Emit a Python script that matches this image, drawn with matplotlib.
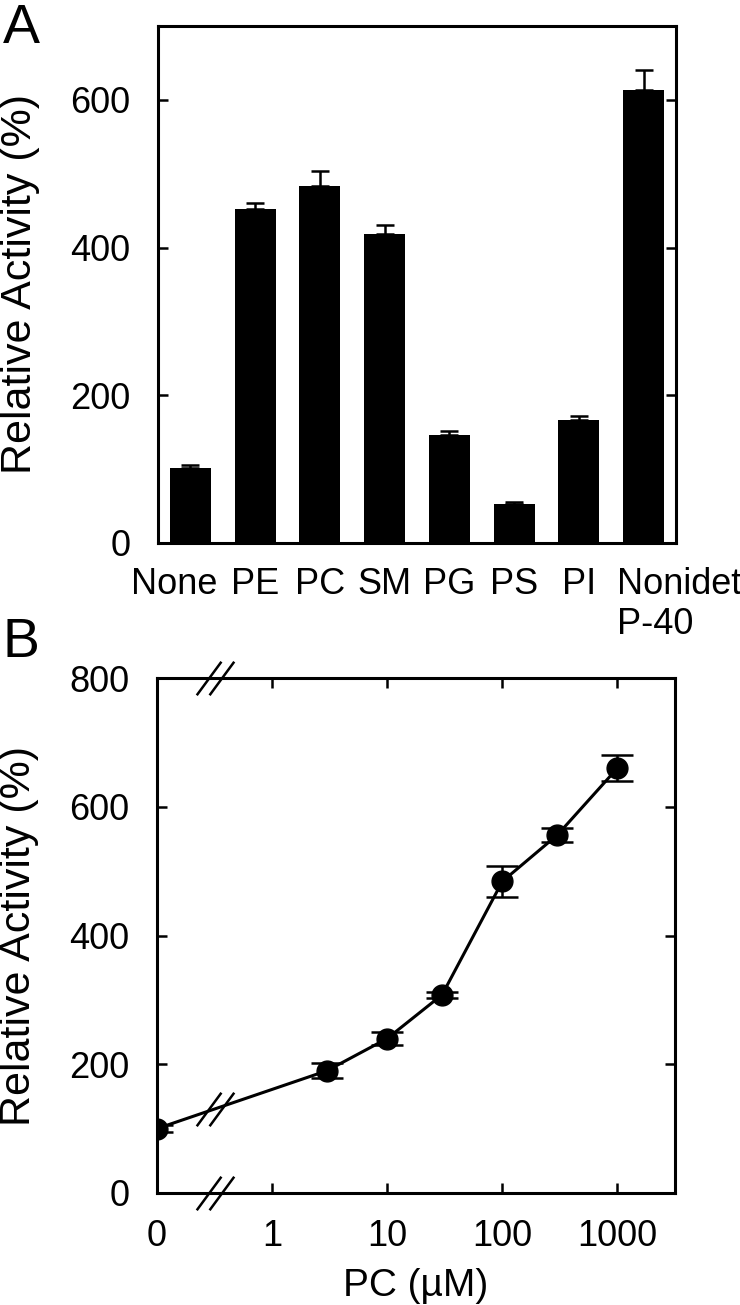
import numpy as np
import matplotlib
matplotlib.use("Agg")
import matplotlib.pyplot as plt
from matplotlib.path import Path

plt.rcParams['font.family'] = ['Liberation Sans', 'DejaVu Sans']

# panel A data
lipids = ["None", "PE", "PC", "SM", "PG", "PS", "PI", "Nonidet\nP-40"]
activity = [102, 452, 483, 419, 146, 53, 167, 613]
activity_err = [3, 8, 21, 12, 5, 3, 5, 28]

# panel B data
pc_conc = [0, 3, 10, 30, 100, 300, 1000]
pc_activity = [100, 190, 240, 308, 484, 556, 660]
pc_err = [5, 12, 10, 5, 24, 11, 20]
pc_ticks = [0, 1, 10, 100, 1000]

fs = 26
fs_lab = 31
lw_ax = 2.2

fig = plt.figure(figsize=(7.4, 13.05), dpi=100)

#---- panel A
axA = fig.add_axes([158/740, 1-543/1305, 518/740, 517/1305])
x = np.arange(len(lipids))
axA.bar(x, activity, width=0.63, color="black", zorder=2)
axA.errorbar(x, activity, yerr=[np.zeros(len(x)), activity_err], fmt="none",
             ecolor="black", elinewidth=1.8, capsize=6.5, capthick=1.8, zorder=3)
axA.set_xlim(-0.5, len(lipids)-0.5)
axA.set_ylim(0, 700)
axA.set_yticks([0, 200, 400, 600])
axA.set_xticks([])
axA.tick_params(axis="y", direction="in", left=True, right=True, length=7.5,
                width=1.8, labelsize=fs, pad=20)
for i, lab in enumerate(lipids):
    if i == 0:
        axA.annotate(lab, xy=(i, 0), xycoords=("data", "axes fraction"), xytext=(-12, -17),
                     textcoords="offset points", ha="center", va="top", fontsize=fs)
    elif i == len(lipids)-1:
        axA.annotate(lab, xy=(i, 0), xycoords=("data", "axes fraction"), xytext=(-19, -17),
                     textcoords="offset points", ha="left", va="top", fontsize=fs,
                     multialignment="left", linespacing=1.2)
    else:
        axA.annotate(lab, xy=(i, 0), xycoords=("data", "axes fraction"), xytext=(0, -17),
                     textcoords="offset points", ha="center", va="top", fontsize=fs)
axA.set_ylabel("Relative Activity (%)", fontsize=fs_lab)
axA.yaxis.set_label_coords(-0.228, 0.5)
for s in axA.spines.values():
    s.set_linewidth(lw_ax)

#---- panel B
axB = fig.add_axes([157/740, 1-1193/1305, 518/740, 515/1305])
xpos = [c if c > 0 else 0.1 for c in pc_conc]
axB.set_xscale("log")
axB.errorbar(xpos, pc_activity, yerr=pc_err, fmt="o-", color="black", ms=15,
             lw=2.2, elinewidth=1.8, capsize=11.5, capthick=1.8, zorder=3)
axB.set_xlim(0.1, 10**3.5)
axB.set_ylim(0, 800)
axB.set_xticks([t if t > 0 else 0.1 for t in pc_ticks])
axB.set_xticklabels([str(t) for t in pc_ticks])
axB.xaxis.set_minor_locator(matplotlib.ticker.NullLocator())
axB.set_yticks([0, 200, 400, 600, 800])
axB.tick_params(direction="in", top=True, right=True, length=7.5, width=1.8,
                labelsize=fs)
axB.tick_params(axis="x", pad=19)
axB.tick_params(axis="y", pad=20)
axB.set_xlabel("PC (\u00b5M)", fontsize=28, labelpad=10)
axB.set_ylabel("Relative Activity (%)", fontsize=fs_lab)
axB.yaxis.set_label_coords(-0.228, 0.5)
for s in axB.spines.values():
    s.set_linewidth(lw_ax)

# axis break marks "//"
brk = Path([(-19, -17), (6, 17), (-6, -17), (19, 17)],
           [Path.MOVETO, Path.LINETO, Path.MOVETO, Path.LINETO])
xb = 10**-0.5
axB.plot([xb, xb], [0, 1], transform=axB.get_xaxis_transform(), ls="none",
         marker=brk, ms=27, mec="black", mew=1.8, clip_on=False, zorder=4)
yb = np.interp(np.log10(xb), np.log10(xpos[:2]), pc_activity[:2])
axB.plot([xb], [yb], ls="none", marker=brk, ms=27, mec="black", mew=1.8, zorder=4)

fig.text(0.004, 0.998, "A", fontsize=40, va="top", ha="left")
fig.text(0.004, 0.527, "B", fontsize=40, va="top", ha="left")

fig.savefig("out.png", dpi=100)
